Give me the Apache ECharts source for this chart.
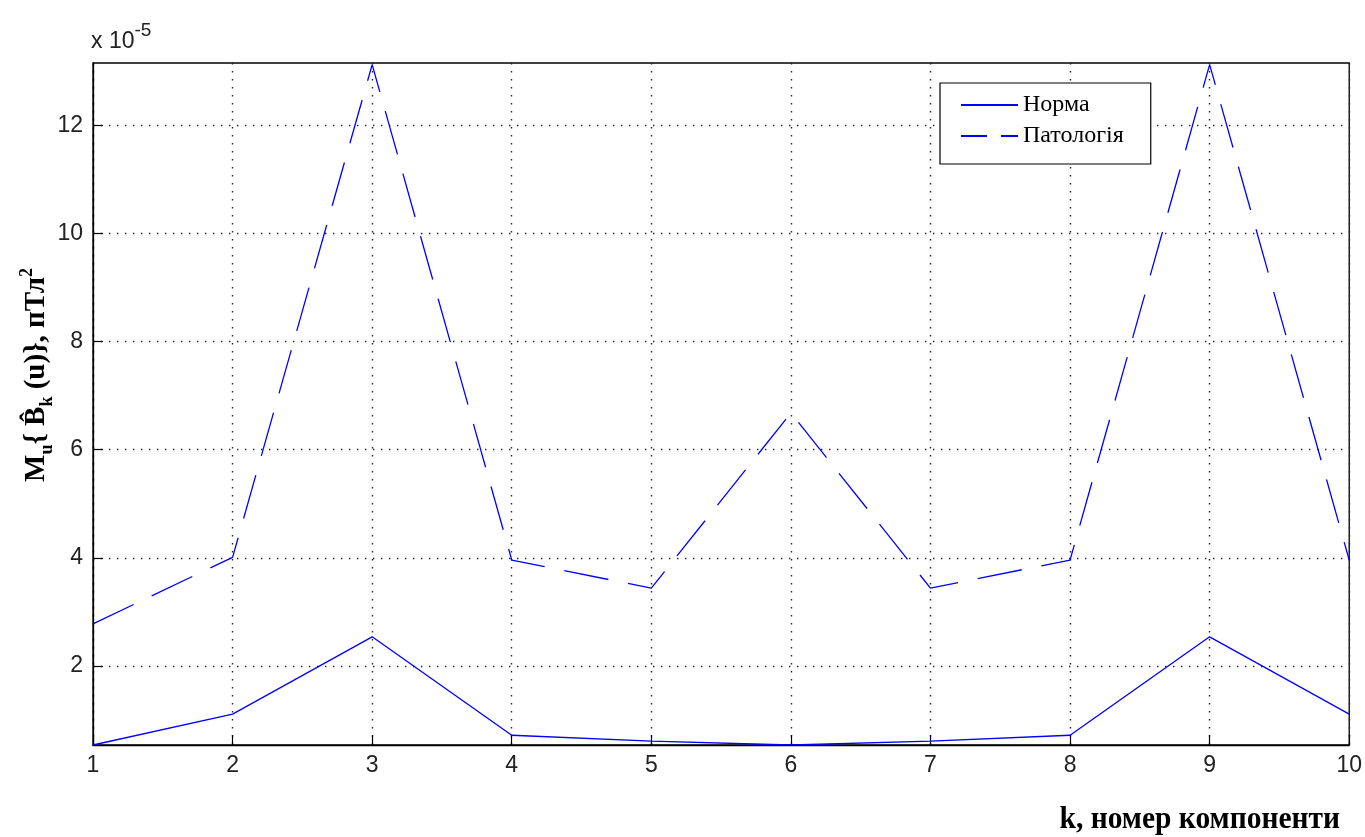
<!DOCTYPE html>
<html>
<head>
<meta charset="utf-8">
<script src="https://cdn.jsdelivr.net/npm/echarts@6/dist/echarts.min.js"></script>
<style>
  html, body { margin: 0; padding: 0; background: #fff; }
  #chart { width: 1365px; height: 837px; }
</style>
</head>
<body>
<div id="chart"></div>
<script>
// Component index k
const components = [1, 2, 3, 4, 5, 6, 7, 8, 9, 10];
// Mean spectral estimate, units of 1e-5 pT^2
const normaValues = [0.54, 1.11, 2.54, 0.72, 0.61, 0.54, 0.61, 0.72, 2.54, 1.11];
const patologyValues = [2.78, 4.01, 13.12, 3.96, 3.44, 6.68, 3.44, 3.96, 13.12, 3.96];
const yTicks = [2, 4, 6, 8, 10, 12];
const seriesNames = ['Норма', 'Патологія'];

const BLUE = '#0000ff';
const SANS = '"Liberation Sans", Arial, sans-serif';
const SERIF = '"Liberation Serif", "Times New Roman", serif';

const chart = echarts.init(document.getElementById('chart'), null, { renderer: 'canvas' });

const gridLine = { show: true, lineStyle: { color: '#222', width: 1.4, type: [1.4, 6.6] } };

const option = {
  animation: false,
  backgroundColor: '#fff',
  grid: {
    left: 93, right: 15, top: 63, bottom: 92,
    show: true, borderColor: '#000', borderWidth: 1.3, backgroundColor: 'transparent'
  },
  legend: {
    orient: 'vertical',
    left: 940, top: 83,
    padding: [10, 27, 16, 20],
    itemGap: 7,
    itemWidth: 57, itemHeight: 14,
    borderColor: '#000', borderWidth: 1.2, backgroundColor: '#fff',
    itemStyle: { opacity: 0 },
    textStyle: { fontFamily: SERIF, fontSize: 24, lineHeight: 24, color: '#000' },
    data: [
      { name: seriesNames[0] },
      { name: seriesNames[1], lineStyle: { type: [26, 14] } }
    ]
  },
  xAxis: {
    type: 'value',
    min: 1, max: 10, interval: 1,
    axisLine: { show: true, lineStyle: { color: '#000', width: 1.3 } },
    axisTick: { show: true, inside: true, length: 10, lineStyle: { color: '#000', width: 1.2 } },
    axisLabel: { margin: 9, fontFamily: SANS, fontSize: 23, color: '#222' },
    splitLine: gridLine
  },
  yAxis: {
    type: 'value',
    min: 0.54, max: 13.15,
    axisLine: { show: true, lineStyle: { color: '#000', width: 1.3 } },
    axisTick: { show: true, inside: true, length: 10, customValues: yTicks, lineStyle: { color: '#000', width: 1.2 } },
    axisLabel: { margin: 10, fontFamily: SANS, fontSize: 23, color: '#222', customValues: yTicks },
    splitLine: gridLine
  },
  series: [
    {
      name: seriesNames[0], type: 'line', symbol: 'none',
      data: components.map((k, i) => [k, normaValues[i]]),
      lineStyle: { color: BLUE, width: 1.3 }, itemStyle: { color: BLUE }
    },
    {
      name: seriesNames[1], type: 'line', symbol: 'none',
      data: components.map((k, i) => [k, patologyValues[i]]),
      lineStyle: { color: BLUE, width: 1.3, type: [45, 20] }, itemStyle: { color: BLUE }
    }
  ],
  graphic: [
    {
      type: 'text', left: 91, top: 21,
      style: {
        text: '{b|x 10}{s|-5}',
        rich: {
          b: { fontFamily: SANS, fontSize: 23, fill: '#222', verticalAlign: 'bottom', lineHeight: 32 },
          s: { fontFamily: SANS, fontSize: 19, fill: '#222', verticalAlign: 'top', lineHeight: 32 }
        }
      }
    },
    {
      // rotated y-axis title with sub/superscripts
      type: 'text', x: 37, y: 375, rotation: Math.PI / 2,
      style: {
        text: 'M{sub|u}{ B\u0302{sub|k} (u)}, пТл{sup|2}',
        fontFamily: SERIF, fontWeight: 'bold', fontSize: 29, fill: '#000',
        align: 'center', verticalAlign: 'middle', lineHeight: 38,
        rich: {
          sub: { fontFamily: SERIF, fontWeight: 'bold', fontSize: 18, fill: '#000', verticalAlign: 'bottom', lineHeight: 38 },
          sup: { fontFamily: SERIF, fontWeight: 'bold', fontSize: 18, fill: '#000', verticalAlign: 'top', lineHeight: 38 }
        }
      }
    },
    {
      type: 'text', right: 25, top: 803, scaleY: 1.1,
      style: { text: 'k, номер компоненти', fontFamily: SERIF, fontWeight: 'bold', fontSize: 29.5, fill: '#000' }
    }
  ]
};

chart.setOption(option);
</script>
</body>
</html>
